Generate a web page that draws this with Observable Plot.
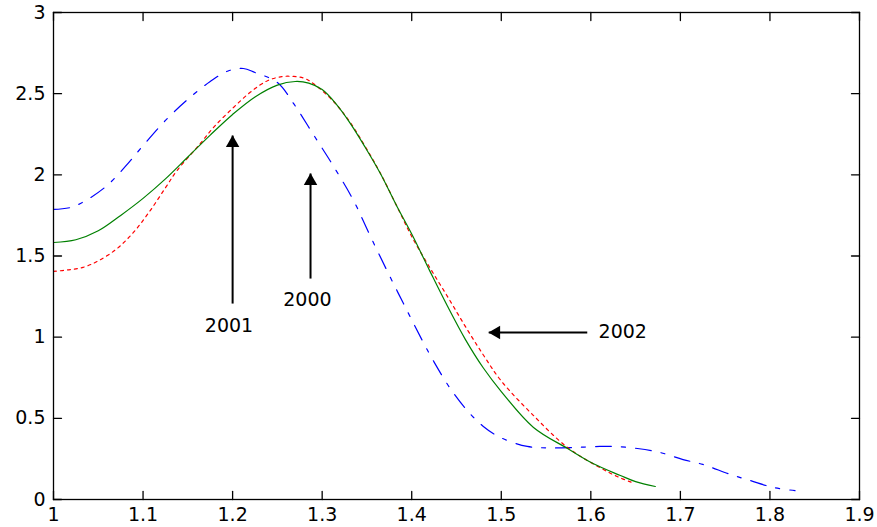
<!DOCTYPE html>
<html>
<head>
<meta charset="utf-8">
<script src="https://cdn.jsdelivr.net/npm/d3@7"></script>
<script src="https://cdn.jsdelivr.net/npm/@observablehq/plot@0.6"></script>
<style>
  body { margin: 0; background: #fff; }
  #chart svg { display: block; }
</style>
</head>
<body>
<div id="chart"></div>
<script>
// ---- Data ----
const x2000 = [1.0, 1.02, 1.04, 1.06, 1.08, 1.1, 1.125, 1.15, 1.175, 1.195, 1.212, 1.225, 1.25, 1.268, 1.29, 1.313, 1.335, 1.354, 1.374, 1.393, 1.413, 1.424, 1.443, 1.462, 1.48, 1.499, 1.529, 1.555, 1.58, 1.61, 1.627, 1.652, 1.677, 1.703, 1.725, 1.756, 1.778, 1.804, 1.828];
const y2000 = [1.787, 1.8, 1.855, 1.935, 2.05, 2.18, 2.335, 2.465, 2.575, 2.64, 2.655, 2.63, 2.569, 2.44, 2.25, 2.05, 1.842, 1.62, 1.392, 1.183, 0.967, 0.856, 0.684, 0.548, 0.45, 0.382, 0.327, 0.318, 0.32, 0.327, 0.327, 0.314, 0.29, 0.246, 0.216, 0.154, 0.117, 0.074, 0.055];

const x2001 = [1.0, 1.025, 1.05, 1.075, 1.1, 1.125, 1.15, 1.175, 1.2, 1.225, 1.25, 1.27, 1.285, 1.3, 1.315, 1.331, 1.348, 1.365, 1.384, 1.4, 1.42, 1.44, 1.46, 1.48, 1.5, 1.536, 1.574, 1.603, 1.633, 1.65, 1.672];
const y2001 = [1.583, 1.6, 1.655, 1.75, 1.855, 1.975, 2.11, 2.245, 2.372, 2.48, 2.553, 2.575, 2.565, 2.525, 2.44, 2.32, 2.17, 2.008, 1.8, 1.635, 1.41, 1.19, 0.985, 0.81, 0.665, 0.444, 0.314, 0.22, 0.148, 0.11, 0.08];

const x2002 = [1.0, 1.017, 1.033, 1.05, 1.071, 1.09, 1.108, 1.125, 1.138, 1.164, 1.18, 1.201, 1.22, 1.239, 1.255, 1.268, 1.28, 1.29, 1.313, 1.331, 1.348, 1.365, 1.384, 1.4, 1.42, 1.44, 1.46, 1.48, 1.5, 1.536, 1.574, 1.61, 1.63, 1.646];
const y2002 = [1.405, 1.415, 1.43, 1.47, 1.546, 1.65, 1.78, 1.92, 2.027, 2.193, 2.3, 2.415, 2.51, 2.58, 2.605, 2.606, 2.595, 2.563, 2.45, 2.325, 2.175, 2.01, 1.8, 1.62, 1.43, 1.25, 1.065, 0.89, 0.73, 0.517, 0.32, 0.197, 0.14, 0.105];

const xTicks = [1, 1.1, 1.2, 1.3, 1.4, 1.5, 1.6, 1.7, 1.8, 1.9];
const xTickLabels = ["1", "1.1", "1.2", "1.3", "1.4", "1.5", "1.6", "1.7", "1.8", "1.9"];
const yTicks = [0, 0.5, 1, 1.5, 2, 2.5, 3];
const yTickLabels = ["0", "0.5", "1", "1.5", "2", "2.5", "3"];

// annotations: year labels with arrows
const annYears = ["2001", "2000", "2002"];
const annTailX = [1.2, 1.287, 1.596];
const annTailY = [1.207, 1.361, 1.029];
const annHeadX = [1.2, 1.287, 1.486];
const annHeadY = [2.242, 2.008, 1.029];
const annLabelX = [1.196, 1.2835, 1.6356];
const annLabelY = [1.072, 1.229, 1.035];
const annDir = ["up", "up", "left"];

// ---- Build tables ----
const toRows = (xs, ys) => xs.map((x, i) => ({x, y: ys[i]}));
const d2000 = toRows(x2000, y2000);
const d2001 = toRows(x2001, y2001);
const d2002 = toRows(x2002, y2002);
const ann = annYears.map((t, i) => ({
  text: t, x1: annTailX[i], y1: annTailY[i], x2: annHeadX[i], y2: annHeadY[i],
  lx: annLabelX[i], ly: annLabelY[i], dir: annDir[i]
}));
const annUp = ann.filter(d => d.dir === "up");
const annLeft = ann.filter(d => d.dir === "left");

const tickShape = {draw(context, l) { context.moveTo(0, 0); context.lineTo(0, -l); }};
const FONT = "DejaVu Sans, Liberation Sans, Arial, sans-serif";

const chart = Plot.plot({
  width: 877,
  height: 527,
  marginLeft: 53,
  marginRight: 18,
  marginTop: 12,
  marginBottom: 28,
  style: {fontFamily: FONT, fontSize: "19px", background: "#fff", color: "#000"},
  x: {domain: [1, 1.9], axis: null},
  y: {domain: [0, 3], axis: null},
  marks: [
    // curves
    Plot.line(d2000, {x: "x", y: "y", stroke: "#0000ff", strokeWidth: 1.2, strokeDasharray: "16,10,4,10", curve: "catmull-rom"}),
    Plot.line(d2002, {x: "x", y: "y", stroke: "#ff0000", strokeWidth: 1.2, strokeDasharray: "3,4", curve: "catmull-rom"}),
    Plot.line(d2001, {x: "x", y: "y", stroke: "#008000", strokeWidth: 1.2, curve: "catmull-rom"}),
    // annotation arrows
    Plot.link(ann, {x1: "x1", y1: "y1", x2: "x2", y2: "y2", stroke: "#000", strokeWidth: 2}),
    Plot.dot(annUp, {x: "x2", y: "y2", symbol: "triangle", r: 5, fill: "#000", stroke: null, dy: 7.5}),
    Plot.dot(annLeft, {x: "x2", y: "y2", symbol: "triangle", r: 5, fill: "#000", stroke: null, rotate: -90, dx: 7.5}),
    Plot.text(ann, {x: "lx", y: "ly", text: "text", fontSize: 19, fill: "#000"}),
    // box and inward ticks
    Plot.frame({stroke: "#000", strokeWidth: 1.3}),
    Plot.vectorX(xTicks, {x: d => d, frameAnchor: "bottom", anchor: "start", length: 8, rotate: 0, shape: tickShape, stroke: "#000", strokeWidth: 1.3}),
    Plot.vectorX(xTicks, {x: d => d, frameAnchor: "top", anchor: "start", length: 8, rotate: 180, shape: tickShape, stroke: "#000", strokeWidth: 1.3}),
    Plot.vectorY(yTicks, {y: d => d, frameAnchor: "left", anchor: "start", length: 8, rotate: 90, shape: tickShape, stroke: "#000", strokeWidth: 1.3}),
    Plot.vectorY(yTicks, {y: d => d, frameAnchor: "right", anchor: "start", length: 8, rotate: -90, shape: tickShape, stroke: "#000", strokeWidth: 1.3}),
    // tick labels
    Plot.text(xTicks, {x: d => d, frameAnchor: "bottom", lineAnchor: "top", dy: 8, text: (d, i) => xTickLabels[i], fill: "#000", fontSize: 19}),
    Plot.text(yTicks, {y: d => d, frameAnchor: "left", textAnchor: "end", dx: -8, text: (d, i) => yTickLabels[i], fill: "#000", fontSize: 19})
  ]
});
document.getElementById("chart").appendChild(chart);
</script>
</body>
</html>
